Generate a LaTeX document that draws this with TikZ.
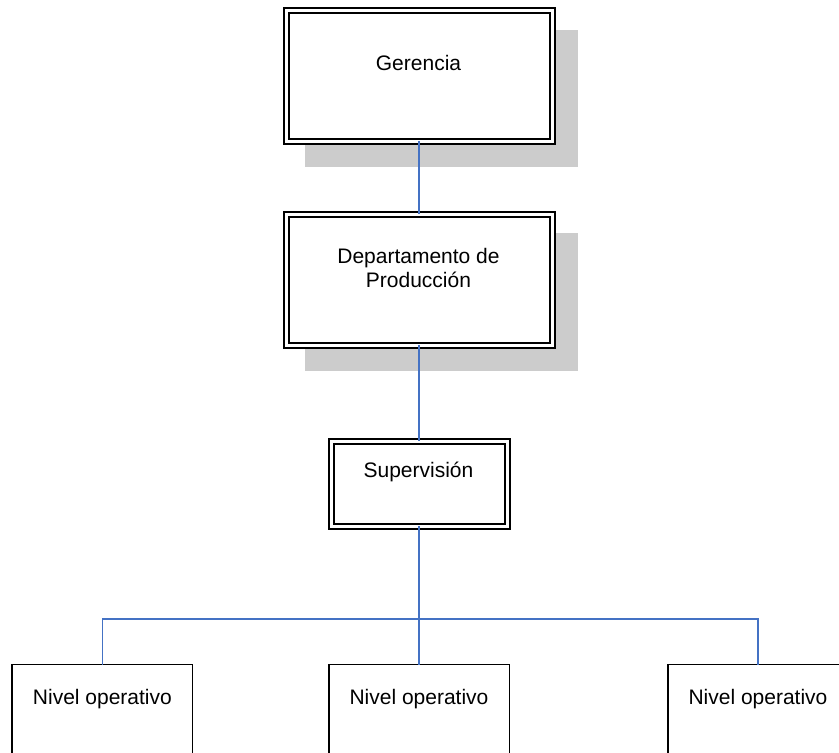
\documentclass[tikz,border=0pt]{standalone}
\usepackage{fontspec}
\setmainfont{Liberation Sans}
\usetikzlibrary{backgrounds}
\definecolor{azulenlace}{RGB}{68,114,196}

\begin{document}
\begin{tikzpicture}[x=1pt, y=-1pt,
	cajadoble/.style={draw, double=white, double distance=3pt, line width=2pt, fill=white, inner sep=0pt, outer sep=0pt},
	cajasimple/.style={draw, line width=1.5pt, fill=white, inner sep=0pt, outer sep=0pt, minimum width=180.5pt, minimum height=120pt, anchor=north},
	texto/.style={font=\fontsize{21}{24.5}\selectfont, align=center, inner sep=0pt, anchor=base},
	enlace/.style={azulenlace, line width=1.6pt},
	sombra/.style={fill=black!20}]
	\useasboundingbox (0,0) rectangle (839,753);
	% cajas
	\node[cajadoble, minimum width=266pt, minimum height=130.4pt] (ger) at (419,76) {};
	\node[cajadoble, minimum width=266pt, minimum height=130.6pt] (dep) at (419,279.7) {};
	\node[cajadoble, minimum width=176pt, minimum height=85pt] (sup) at (419,483.5) {};
	\node[cajasimple] (niv1) at (102.4,664.7) {};
	\node[cajasimple] (niv2) at (419,664.7) {};
	\node[cajasimple] (niv3) at (758,664.7) {};
	% textos
	\node[texto] (tger) at (418.5,70.7) {Gerencia};
	\node[texto] (tdep) at (418.5,287.8) {Departamento de\\Producción};
	\node[texto] (tsup) at (418.5,477.3) {Supervisión};
	\node[texto] (tniv1) at (102.4,704) {Nivel operativo};
	\node[texto] (tniv2) at (419,704) {Nivel operativo};
	\node[texto] (tniv3) at (758,704) {Nivel operativo};
	\begin{scope}[on background layer]
		\fill[sombra] ([shift={(19,19)}]ger.north west) rectangle ([shift={(26,26)}]ger.south east);
		\fill[sombra] ([shift={(19,19)}]dep.north west) rectangle ([shift={(26,26)}]dep.south east);
	\end{scope}
	% conexiones
	\coordinate (bus) at (419,619);
	\draw[enlace] (ger) -- (dep);
	\draw[enlace] (dep) -- (sup);
	\draw[enlace] (sup) -- (bus);
	\draw[enlace] (niv1.north) |- (bus) -| (niv3.north);
	\draw[enlace] (bus) -- (niv2.north);
\end{tikzpicture}
\end{document}
